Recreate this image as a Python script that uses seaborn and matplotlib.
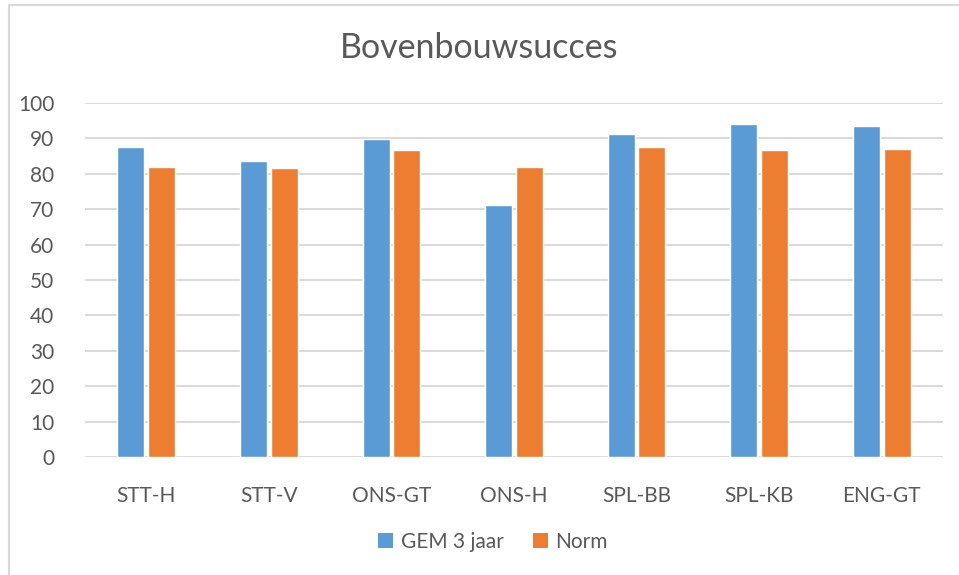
import pandas as pd
import matplotlib
matplotlib.use("Agg")
import matplotlib.pyplot as plt
import seaborn as sns
from matplotlib.patches import Rectangle, Patch

# data
categories = ["STT-H", "STT-V", "ONS-GT", "ONS-H", "SPL-BB", "SPL-KB", "ENG-GT"]
gem_3_jaar = [87.6, 83.5, 89.7, 71.1, 91.2, 94.1, 93.5]
norm = [81.8, 81.6, 86.7, 82.0, 87.6, 86.7, 86.9]
series_names = ["GEM 3 jaar", "Norm"]
colors = ["#5B9BD5", "#ED7D31"]

df = pd.DataFrame({
    "cat": categories * 2,
    "serie": [series_names[0]] * len(categories) + [series_names[1]] * len(categories),
    "waarde": gem_3_jaar + norm,
})

sns.set_theme(style="white")
plt.rcParams["font.family"] = ["Lato", "DejaVu Sans"]
TXT = "#595959"
GRID = "#D9D9D9"

fig = plt.figure(figsize=(9.59, 5.75), dpi=100)
ax = fig.add_axes([85 / 959, 1 - 457 / 575, (943 - 85) / 959, (457 - 103) / 575])

sns.barplot(data=df, x="cat", y="waarde", hue="serie", palette=colors,
            width=0.5, gap=0.12, ax=ax, legend=False, saturation=1)

ax.set_ylim(0, 100)
ax.set_xlim(-0.5, len(categories) - 0.5)
ax.set_yticks(range(0, 101, 10))
ax.yaxis.grid(True, color=GRID, linewidth=1.4)
ax.set_axisbelow(True)
for s in ax.spines.values():
    s.set_visible(False)
ax.set_xlabel("")
ax.set_ylabel("")
ax.tick_params(axis="both", length=0, colors=TXT, labelsize=15)
ax.tick_params(axis="x", pad=21)
ax.tick_params(axis="y", pad=22)

fig.text(0.5, 1 - 48 / 575, "Bovenbouwsucces", ha="center", va="center",
         fontsize=24.5, color=TXT)

handles = [Patch(facecolor=c, edgecolor="none") for c in colors]
fig.legend(handles, series_names, loc="center", bbox_to_anchor=(0.514, 1 - 542 / 575),
           ncol=2, frameon=False, fontsize=15, labelcolor=TXT,
           handlelength=0.75, handleheight=0.75, handletextpad=0.35, columnspacing=1.4)

# outer chart border
fig.patches.append(Rectangle((9 / 959, -0.05), 1.0, 1 - 5 / 575 + 0.05,
                             transform=fig.transFigure, fill=False,
                             edgecolor=GRID, linewidth=1.5))

fig.savefig("out.png", dpi=100, facecolor="white")
